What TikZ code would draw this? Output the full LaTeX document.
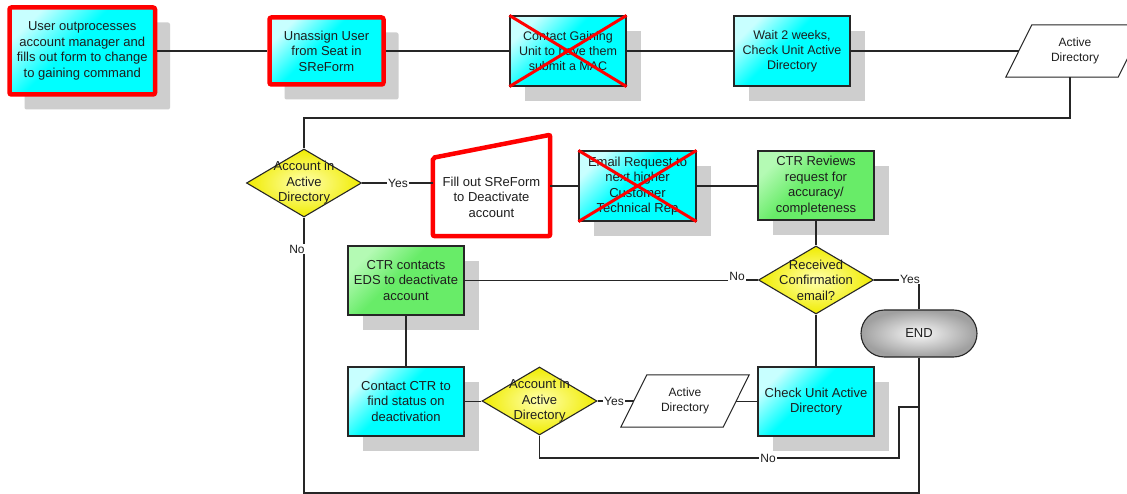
\documentclass[tikz,border=0pt]{standalone}
\usepackage{fontspec}
\setmainfont{Liberation Sans}
\usetikzlibrary{shapes.geometric,shadows,calc}

\definecolor{cyanBase}{RGB}{0,255,255}
\definecolor{cyanLt}{RGB}{200,255,255}
\definecolor{greenBase}{RGB}{104,236,104}
\definecolor{greenLt}{RGB}{180,250,180}
\definecolor{yelBase}{RGB}{240,236,0}
\definecolor{yelLt}{RGB}{255,255,175}
\definecolor{endOut}{RGB}{160,160,160}
\definecolor{endIn}{RGB}{248,248,248}
\definecolor{shadowGray}{RGB}{206,206,206}
\definecolor{ink}{RGB}{30,30,30}
\definecolor{edge}{RGB}{38,38,38}
\definecolor{alert}{RGB}{255,0,0}

\pgfdeclarehorizontalshading{cyanfade}{100bp}{color(0bp)=(cyanLt); color(25bp)=(cyanLt); color(45bp)=(cyanBase); color(100bp)=(cyanBase)}
\pgfdeclarehorizontalshading{greenfade}{100bp}{color(0bp)=(greenLt); color(25bp)=(greenLt); color(45bp)=(greenBase); color(100bp)=(greenBase)}

\tikzset{
  txt/.style={text=ink, align=center, font=\fontsize{13}{15.5}\selectfont},
  smalltxt/.style={text=ink, align=center, font=\fontsize{12}{14.5}\selectfont},
  box/.style={txt, rectangle, draw=edge, line width=1.1pt,
    minimum width=116pt, minimum height=70pt, inner sep=2pt,
    drop shadow={shadow xshift=15pt, shadow yshift=-15pt, fill=shadowGray, opacity=1}},
  cyanbox/.style={box, shade, shading=cyanfade, shading angle=-45},
  greenbox/.style={box, shade, shading=greenfade, shading angle=-45},
  redline/.style={draw=alert, line width=4.5pt, rounded corners=2pt},
  dia/.style={diamond, draw=edge, line width=1.1pt, minimum width=115pt,
    minimum height=68pt, inner sep=0pt, inner color=yelLt, outer color=yelBase},
  diatext/.style={txt, inner sep=0pt},
  paratext/.style={smalltxt, rectangle, minimum height=52pt, inner sep=0pt},
  paraline/.style={draw=edge, line width=1pt},
  endnode/.style={txt, rectangle, rounded corners=23.5pt, draw=edge, line width=1.1pt,
    minimum width=116pt, minimum height=47pt, inner color=endIn, outer color=endOut},
  crossmark/.style={draw=alert, line width=3pt},
  lbl/.style={smalltxt, fill=white, inner sep=1pt},
  link/.style={draw=edge, line width=1.2pt}
}

\begin{document}
\begin{tikzpicture}[x=1pt, y=-1pt]
\fill[white] (0,0) rectangle (1127,494);
\useasboundingbox (0,0) rectangle (1127,494);

% top row
\node[cyanbox, redline, minimum width=145.5pt, minimum height=87pt] (b1) at (82.25,51)
  {User outprocesses\\account manager and\\fills out form to change\\to gaining command};
\node[cyanbox, redline, minimum width=114pt, minimum height=67pt] (b2) at (326.5,51)
  {Unassign User\\from Seat in\\SReForm};
\node[cyanbox, font=\fontsize{12.5}{15}\selectfont] (b3) at (568,51)
  {Contact Gaining\\Unit to have them\\submit a MAC};
\node[cyanbox, font=\fontsize{12.5}{15}\selectfont] (b4) at (792,51)
  {Wait 2 weeks,\\Check Unit Active\\Directory};
\node[paratext, minimum width=112pt] (p1) at (1075,51) {Active\\Directory};
\draw[paraline] ([xshift=-13pt]p1.south west) -- ([xshift=-13pt]p1.south east)
  -- ([xshift=13pt]p1.north east) -- ([xshift=13pt]p1.north west) -- cycle;

% second row
\node[dia] (d1) at (304,183) {};
\node[diatext] (d1t) at (d1.center) {Account in\\Active\\Directory};
\node[txt, rectangle, minimum width=117pt, minimum height=78pt, inner sep=0pt] (t1) at (491.5,197)
  {Fill out SReForm\\to Deactivate\\account};
\draw[redline] (t1.south west) -- (t1.north west) -- ([yshift=23pt]t1.north east)
  -- (t1.south east) -- cycle;
\node[cyanbox, minimum width=117pt] (b5) at (637.5,186)
  {Email Request to\\next higher\\Customer\\Technical Rep};
\node[greenbox, minimum height=69pt] (b6) at (816,185.5)
  {CTR Reviews\\request for\\accuracy/\\completeness};

% decision and end
\node[dia] (d2) at (816,280) {};
\node[diatext] (d2t) at (d2.center) {Received\\Confirmation\\email?};
\node[endnode] (end) at (919,333.5) {END};

% lower rows
\node[greenbox, minimum height=69pt] (b7) at (406,280.5)
  {CTR contacts\\EDS to deactivate\\account};
\node[cyanbox, minimum height=69pt] (b8) at (406,401.5)
  {Contact CTR to\\find status on\\deactivation};
\node[dia] (d3) at (539.5,401) {};
\node[diatext] (d3t) at (d3.center) {Account in\\Active\\Directory};
\node[paratext, minimum width=102pt] (p2) at (685,401) {Active\\Directory};
\draw[paraline] ([xshift=-13pt]p2.south west) -- ([xshift=-13pt]p2.south east)
  -- ([xshift=13pt]p2.north east) -- ([xshift=13pt]p2.north west) -- cycle;
\node[cyanbox, minimum height=69pt] (b9) at (816,401.5)
  {Check Unit Active\\Directory};

% struck-out steps
\draw[crossmark] (b3.north west) -- (b3.south east) (b3.north east) -- (b3.south west);
\draw[crossmark] (b5.north west) -- (b5.south east) (b5.north east) -- (b5.south west);

% connector labels
\node[lbl] (y1) at (398,183) {Yes};
\node[lbl] (n1) at (297,249) {No};
\node[lbl] (n2) at (737,276) {No};
\node[lbl] (y2) at (910,279) {Yes};
\node[lbl] (y3) at (614,401) {Yes};
\node[lbl] (n3) at (768,458) {No};

% connectors
\draw[link] (b1) -- (b2);
\draw[link] (b2) -- (b3);
\draw[link] (b3) -- (b4);
\draw[link] (b4) -- (p1);
\coordinate (r1) at (1070,118);
\draw[link] ([xshift=-5pt]p1.south) -- (r1) -| (d1.north);
\draw[link] (d1.east) -- (y1.west);
\draw[link] (y1.east) -- (y1.east -| t1.west);
\draw[link] (b5.west -| t1.east) -- (b5.west);
\draw[link] (b5.east) -- (b5.east -| b6.west);
\draw[link] (b6) -- (d2);
\draw[link] (d2.west) -- (d2.west -| n2.east);
\draw[link] (n2.west |- b7.east) -- (b7.east);
\draw[link] (d2.east) -- (d2.east -| y2.west);
\draw[link] (y2.south -| end.north) -- (end.north);
\draw[link] (d2) -- (b9);
\draw[link] (b9.west) -- (b9.west -| p2.east);
\draw[link] (p2.west) -- (y3.east);
\draw[link] (y3.west) -- (d3.east);
\draw[link] (b8.east) -- (b8.east -| d3.west);
\draw[link] (b7) -- (b8);
\coordinate (k1) at (899,407);
\draw[link] (d3.south) |- (n3.west);
\draw[link] (n3.east) -| (k1) -- (k1 -| end.south);
\coordinate (k2) at (919,493);
\draw[link] (end.south) -- (k2) -| (n1.south -| d1.south);
\draw[link] (d1.south) -- (d1.south |- n1.north);
\end{tikzpicture}
\end{document}
